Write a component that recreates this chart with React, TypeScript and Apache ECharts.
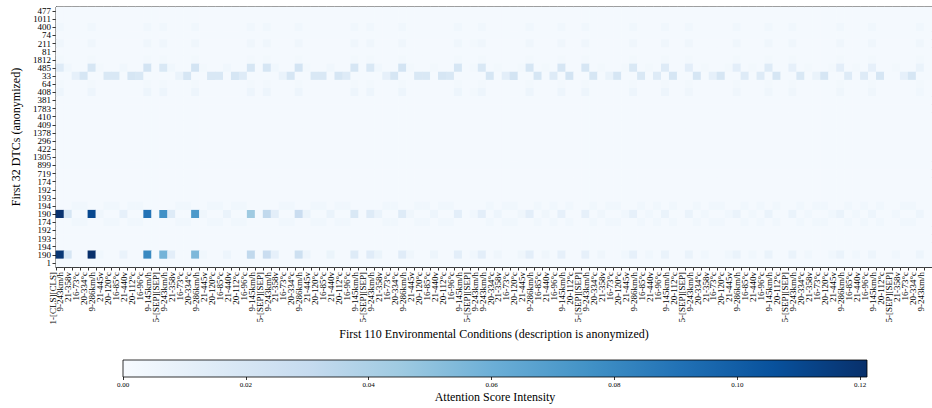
import React, { useEffect, useRef } from "react";
import * as echarts from "echarts";

// ---- Tick labels ----
const dtcLabels: string[] = [
  "477", "1011", "400", "74", "211", "81", "1812", "485", "33", "64", "408",
  "381", "1783", "410", "409", "1378", "296", "422", "1305", "899", "719",
  "174", "192", "193", "194", "190", "174", "192", "193", "194", "190", "1",
];

const conditionLabels: string[] = [
  "1-[CLS][CLS]",
  "9-243km/h", "21-358v", "16-73°c", "20-334°c", "9-286km/h", "21-445v", "20-120°c", "16-85°c", "21-440v", "20-112°c", "16-96°c", "9-145km/h", "5-[SEP][SEP]",
  "9-243km/h", "21-358v", "16-73°c", "20-334°c", "9-286km/h", "21-445v", "20-120°c", "16-85°c", "21-440v", "20-112°c", "16-96°c", "9-145km/h", "5-[SEP][SEP]",
  "9-243km/h", "21-358v", "16-73°c", "20-334°c", "9-286km/h", "21-445v", "20-120°c", "16-85°c", "21-440v", "20-112°c", "16-96°c", "9-145km/h", "5-[SEP][SEP]",
  "9-243km/h", "21-358v", "16-73°c", "20-334°c", "9-286km/h", "21-445v", "20-120°c", "16-85°c", "21-440v", "20-112°c", "16-96°c", "9-145km/h", "5-[SEP][SEP]",
  "9-243km/h",
  "9-243km/h", "20-334°c", "21-358v", "16-73°c", "20-120°c", "21-445v", "9-286km/h", "16-85°c", "21-440v", "16-96°c", "9-145km/h", "20-112°c", "5-[SEP][SEP]",
  "9-243km/h", "20-334°c", "21-358v", "16-73°c", "20-120°c", "21-445v", "9-286km/h", "16-85°c", "21-440v", "16-96°c", "9-145km/h", "20-112°c", "5-[SEP][SEP]",
  "9-243km/h", "20-334°c", "21-358v", "16-73°c", "20-120°c", "21-445v", "9-286km/h", "16-85°c", "21-440v", "16-96°c", "9-145km/h", "20-112°c", "5-[SEP][SEP]",
  "9-243km/h", "20-334°c", "21-358v", "16-73°c", "20-120°c", "21-445v", "9-286km/h", "16-85°c", "21-440v", "16-96°c", "9-145km/h", "20-112°c", "5-[SEP][SEP]",
  "21-358v", "16-73°c", "20-334°c", "9-243km/h",
];

const colorbarTicks: number[] = [0, 0.02, 0.04, 0.06, 0.08, 0.1, 0.12];
const COLOR_MAX = 0.1211;

// ---- Attention values (thousandths), one string per DTC row, 110 cells each ----
const rowBase =
  "2 2 2 2 2 2 2 2 2 2 2 2 2  2 2 2 2 2 2 2 2 2 2 2 2 2  2 2 2 2 2 2 2 2 2 2 2 2 2  2 2 2 2 2 2 2 2 2 2 2 2 2  2  " +
  "2 2 2 2 2 2 2 2 2 2 2 2 2  2 2 2 2 2 2 2 2 2 2 2 2 2  2 2 2 2 2 2 2 2 2 2 2 2 2  2 2 2 2 2 2 2 2 2 2 2 2 2  2 2 2 2 2";
const row400 =
  "4 2 2 2 4 2 2 2 2 2 2 4 2  4 2 2 2 4 2 2 2 2 2 2 4 2  4 2 2 2 4 2 2 2 2 2 2 4 2  4 2 2 2 4 2 2 2 2 2 2 4 2  2  " +
  "4 2 2 2 2 2 4 2 2 2 4 2 2  4 2 2 2 2 2 4 2 2 2 4 2 2  4 2 2 2 2 2 4 2 2 2 4 2 2  4 2 2 2 2 2 4 2 2 2 4 2 2  2 2 2 4 2";
const row211 =
  "5 2 2 2 5 2 2 2 2 2 2 5 2  5 2 2 2 5 2 2 2 2 2 2 5 2  5 2 2 2 5 2 2 2 2 2 2 5 2  5 2 2 2 5 2 2 2 2 2 2 5 2  3  " +
  "5 2 2 2 2 2 5 2 2 2 5 2 2  5 2 2 2 2 2 5 2 2 2 5 2 2  5 2 2 2 2 2 5 2 2 2 5 2 2  5 2 2 2 2 2 5 2 2 2 5 2 2  2 2 2 5 2";
const row1812 =
  "3 2 2 2 3 2 2 2 2 2 2 3 2  3 2 2 2 3 2 2 2 2 2 2 3 2  3 2 2 2 3 2 2 2 2 2 2 3 2  3 2 2 2 3 2 2 2 2 2 2 3 2  2  " +
  "3 2 2 2 2 2 3 2 2 2 3 2 2  3 2 2 2 2 2 3 2 2 2 3 2 2  3 2 2 2 2 2 3 2 2 2 3 2 2  3 2 2 2 2 2 3 2 2 2 3 2 2  2 2 2 3 2";
const row485 =
  "15 4 2 2 20 3 2 2 4 2 2 22 2  18 4 2 2 22 3 2 2 4 2 2 20 2  20 4 2 2 22 3 2 2 4 2 2 20 2  18 4 2 2 22 3 2 2 3 2 2 20 2  3  " +
  "18 2 3 2 2 3 20 2 3 2 20 2 2  20 2 3 2 2 3 18 2 3 2 15 2 2  12 2 3 2 2 3 12 2 3 2 15 2 2  10 2 3 2 2 3 12 2 3 2 10 2 2  3 2 2 8 2";
const row33 =
  "2 2 10 20 2 2 18 18 2 20 18 2 2  2 2 8 20 2 2 18 18 2 20 15 2 2  2 2 8 20 2 2 18 18 2 20 15 2 2  2 2 10 20 2 2 18 18 2 20 18 2 2  2  " +
  "2 20 2 12 22 2 2 20 2 15 2 22 2  2 20 2 8 20 2 2 18 2 15 2 20 2  2 20 2 10 20 2 2 15 2 15 2 20 2  2 18 2 8 20 2 2 15 2 15 2 20 2  2 10 20 2 2";
const row64 = row1812;
const row408 =
  "6 2 2 2 6 2 2 2 2 2 2 6 2  6 2 2 2 6 2 2 2 2 2 2 6 2  6 2 2 2 6 2 2 2 2 2 2 6 2  6 2 2 2 6 2 2 2 2 2 2 6 2  3  " +
  "6 2 2 2 2 2 6 2 2 2 6 2 2  6 2 2 2 2 2 6 2 2 2 6 2 2  5 2 2 2 2 2 5 2 2 2 5 2 2  5 2 2 2 2 2 5 2 2 2 5 2 2  2 2 2 4 2";
const rowTemp4 =
  "2 2 4 4 2 2 4 4 2 4 4 2 2  2 2 4 4 2 2 4 4 2 4 4 2 2  2 2 4 4 2 2 4 4 2 4 4 2 2  2 2 4 4 2 2 4 4 2 4 4 2 2  2  " +
  "2 4 2 4 4 2 2 4 2 4 2 4 2  2 4 2 4 4 2 2 4 2 4 2 4 2  2 4 2 4 4 2 2 4 2 4 2 4 2  2 4 2 4 4 2 2 4 2 4 2 4 2  2 4 4 2 2";
const row190a =
  "120 20 2 2 110 5 2 2 10 2 2 90 2  76 15 2 2 72 5 2 2 8 2 2 45 2  32 12 2 2 28 7 2 2 8 2 2 18 2  15 8 2 2 15 5 2 2 6 2 2 12 2  4  " +
  "12 2 6 2 2 5 12 2 5 2 10 2 2  10 2 5 2 2 4 10 2 4 2 8 2 2  8 2 4 2 2 4 8 2 4 2 8 2 2  8 2 4 2 2 4 8 2 4 2 6 2 2  4 2 2 6 2";
const row190b =
  "118 20 2 2 121 4 2 2 8 2 2 80 2  58 12 2 2 55 4 2 2 6 2 2 32 2  28 10 2 2 26 6 2 2 7 2 2 15 2  14 7 2 2 14 5 2 2 6 2 2 12 2  4  " +
  "12 2 5 2 2 5 12 2 5 2 10 2 2  10 2 5 2 2 4 10 2 4 2 8 2 2  8 2 4 2 2 4 8 2 4 2 8 2 2  8 2 4 2 2 4 8 2 4 2 6 2 2  4 2 2 6 2";

const attentionRows: string[] = [
  rowBase, rowBase, row400, rowBase, row211, rowBase, row1812, row485, row33, row64, row408,
  rowBase, rowBase, rowBase, rowBase, rowBase, rowBase, rowBase, rowBase, rowBase, rowBase,
  rowBase, rowBase, rowBase, rowTemp4, row190a, rowTemp4, rowBase, rowBase, rowBase, row190b, rowBase,
];

const BLUES = ["#f7fbff", "#deebf7", "#c6dbef", "#9ecae1", "#6baed6", "#4292c6", "#2171b5", "#08519c", "#08306b"];
const FONT = "Liberation Serif";

export default function App() {
  const ref = useRef<HTMLDivElement>(null);

  useEffect(() => {
    document.body.style.margin = "0";
    if (!ref.current) return;
    const chart = echarts.init(ref.current, undefined, { renderer: "svg" });

    const matrix = attentionRows.map((s) => s.trim().split(/\s+/).map(Number));
    const nCols = 110;
    const colIds = Array.from({ length: nCols }, (_, i) => String(i));
    const tickIds = Array.from({ length: nCols + 1 }, (_, i) => "t" + i);
    const rowIds = dtcLabels.map((_, i) => "r" + i);

    const data: [number, number, number][] = [];
    matrix.forEach((row, r) => {
      row.forEach((v, c) => {
        if (c < nCols) data.push([c, r, v / 1000]);
      });
    });

    const option: any = {
      animation: false,
      backgroundColor: "#ffffff",
      textStyle: { fontFamily: FONT },
      grid: [
        { left: 56, top: 7, width: 880, height: 260, show: true, borderColor: "#000", borderWidth: 1, backgroundColor: "transparent" },
        { left: 123, top: 360, width: 744, height: 17, show: false },
      ],
      xAxis: [
        {
          type: "category",
          gridIndex: 0,
          data: colIds,
          position: "bottom",
          axisLine: { show: true, lineStyle: { color: "#000", width: 1 } },
          axisTick: { show: false },
          axisLabel: { show: false },
          splitLine: { show: false },
          name: "First 110 Environmental Conditions (description is anonymized)",
          nameLocation: "middle",
          nameGap: 61,
          nameTextStyle: { fontSize: 12, color: "#000", fontFamily: FONT },
        },
        {
          type: "category",
          gridIndex: 0,
          data: tickIds,
          position: "bottom",
          boundaryGap: false,
          axisLine: { show: false },
          axisTick: { show: true, interval: 0, length: 3.5, lineStyle: { color: "#000", width: 0.8 } },
          axisLabel: {
            show: true,
            interval: 0,
            rotate: 90,
            fontSize: 9,
            lineHeight: 7,
            color: "#000",
            margin: 5,
            fontFamily: FONT,
            verticalAlign: "bottom",
            formatter: (_v: string, i: number) => conditionLabels[i] ?? "",
          },
          splitLine: { show: false },
        },
        {
          type: "value",
          gridIndex: 1,
          min: 0,
          max: COLOR_MAX,
          interval: 0.02,
          position: "bottom",
          axisLine: { show: false },
          axisTick: { show: true, length: 3, lineStyle: { color: "#000", width: 0.8 } },
          axisLabel: {
            fontSize: 7,
            color: "#000",
            margin: 4,
            fontFamily: FONT,
            showMaxLabel: false,
            formatter: (v: number) => {
              const hit = colorbarTicks.find((t) => Math.abs(t - v) < 1e-6);
              return hit === undefined ? "" : hit.toFixed(2);
            },
          },
          splitLine: { show: false },
          name: "Attention Score Intensity",
          nameLocation: "middle",
          nameGap: 14,
          nameTextStyle: { fontSize: 12, color: "#000", fontFamily: FONT },
        },
      ],
      yAxis: [
        {
          type: "category",
          gridIndex: 0,
          data: rowIds,
          inverse: true,
          axisLine: { show: true, lineStyle: { color: "#000", width: 1 } },
          axisTick: { show: true, alignWithLabel: true, interval: 0, length: 3.5, lineStyle: { color: "#000", width: 0.8 } },
          axisLabel: {
            interval: 0,
            fontSize: 9,
            lineHeight: 7,
            color: "#000",
            margin: 5,
            fontFamily: FONT,
            formatter: (_v: string, i: number) => dtcLabels[i],
          },
          splitLine: { show: false },
          name: "First 32 DTCs (anonymized)",
          nameLocation: "middle",
          nameGap: 29,
          nameRotate: 90,
          nameTextStyle: { fontSize: 12, color: "#000", fontFamily: FONT },
        },
        { type: "value", gridIndex: 1, show: false, min: 0, max: 1 },
      ],
      visualMap: {
        show: false,
        type: "continuous",
        min: 0,
        max: COLOR_MAX,
        dimension: 2,
        seriesIndex: 0,
        inRange: { color: BLUES },
      },
      series: [
        {
          type: "heatmap",
          xAxisIndex: 0,
          yAxisIndex: 0,
          data,
          progressive: 0,
          emphasis: { disabled: true },
        },
      ],
      graphic: [
        {
          type: "rect",
          z: 10,
          shape: { x: 123, y: 360, width: 744, height: 17 },
          style: {
            fill: new echarts.graphic.LinearGradient(
              0, 0, 1, 0,
              BLUES.map((c, i) => ({ offset: i / (BLUES.length - 1), color: c }))
            ),
            stroke: "#000",
            lineWidth: 0.8,
          },
        },
      ],
    };

    chart.setOption(option);
    return () => chart.dispose();
  }, []);

  return <div ref={ref} style={{ width: 932, height: 408 }} />;
}
